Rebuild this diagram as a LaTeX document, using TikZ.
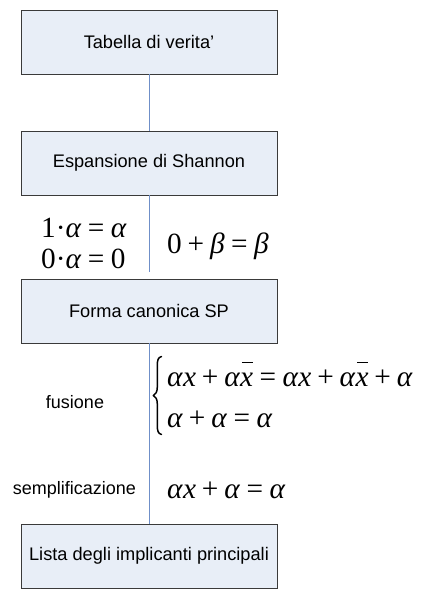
\documentclass[tikz,border=0pt]{standalone}
\usepackage{fontspec}
\setmainfont{Liberation Sans}
\newfontfamily\tms{Liberation Serif}
\definecolor{boxfill}{HTML}{E8EEF7}
\definecolor{boxborder}{HTML}{3A3A3A}
\definecolor{connblue}{HTML}{6F8FC8}
\newcommand\ga{\textit{α}}
\newcommand\gb{\textit{β}}
\newcommand\ix{\textit{x}}
\newcommand\xb{\vbox{\offinterlineskip\hbox{\kern0.06em\vrule height0.9pt depth0pt width0.38em}\kern10pt\hbox{\textit{x}}}}
\newcommand\eqs{\kern0.22em=\kern0.22em}
\newcommand\pls{\kern0.2em+\kern0.2em}
\tikzset{
  blk/.style={draw=boxborder, fill=boxfill, line width=0.9pt, minimum width=256pt,
    minimum height=64pt, inner sep=0pt, font=\fontsize{18.2}{20}\selectfont},
  conn/.style={draw=connblue, line width=1pt},
  lbl/.style={font=\fontsize{18}{20}\selectfont, inner sep=0pt},
  eq/.style={font=\tms\fontsize{29.3}{31}\selectfont, inner sep=0pt, anchor=base west},
  bracestyle/.style={draw=black, line width=1.5pt, line cap=round, line join=round},
}
\begin{document}
\begin{tikzpicture}[x=1pt,y=-1pt]
\useasboundingbox (0,0) rectangle (436,594);
\node[blk] (b1) at (149,42) {Tabella di verita’};
\node[blk] (b2) at (149,163) {Espansione di Shannon};
\node[blk] (b3) at (149,311) {Forma canonica SP};
\node[blk] (b4) at (149,556) {Lista degli implicanti principali};
\coordinate (e2) at (149,272);
\draw[conn] (b1.south) -- (b2.north);
\draw[conn] (b2.south) -- (e2);
\draw[conn] (b3.south) -- (b4.north);

\node[eq] (m1) at (41,237) {1·\ga\eqs\ga};
\node[eq] (m2) at (41,268) {0·\ga\eqs0};
\node[eq] (m3) at (167,253) {0\pls\gb\eqs\gb};

\node[lbl] (fus) at (75,402) {fusione};
\node[lbl] (sem) at (74.5,490) {semplificazione};
\draw[bracestyle] (161.5,356.5) .. controls (158,357.5) and (157.3,360) .. (157.3,366)
  -- (157.3,387) .. controls (157.3,392) and (155.5,394.5) .. (153.3,395.5)
  .. controls (155.5,396.5) and (157.3,399) .. (157.3,404)
  -- (157.3,425) .. controls (157.3,431) and (158,433.5) .. (161.5,434.5);
\node[eq] (f1) at (167,386) {\ga\ix\pls\ga\xb\eqs\ga\ix\pls\ga\xb\pls\ga};
\node[eq] (f2) at (167,427) {\ga\pls\ga\eqs\ga};
\node[eq] (f3) at (167,498) {\ga\ix\pls\ga\eqs\ga};
\end{tikzpicture}
\end{document}
